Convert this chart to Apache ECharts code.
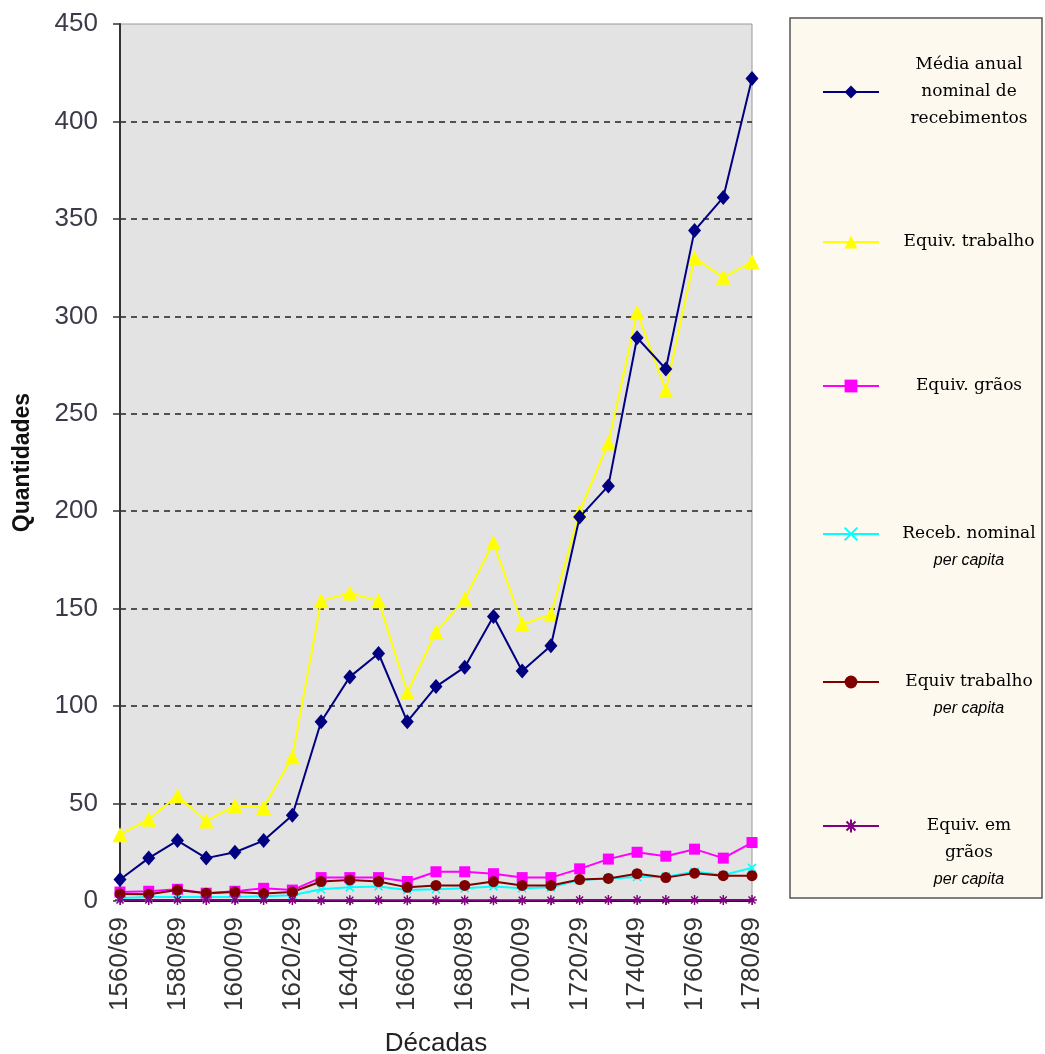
<!DOCTYPE html>
<html>
<head>
<meta charset="utf-8">
<title>Recebimentos por década</title>
<script src="https://cdn.jsdelivr.net/npm/echarts@6/dist/echarts.min.js"></script>
<style>
  html, body { margin: 0; padding: 0; background: #ffffff; }
  #chart { width: 1045px; height: 1054px; }
</style>
</head>
<body>
<div id="chart"></div>
<script>
// Decades on the horizontal axis
const decadas = ['1560/69','1570/79','1580/89','1590/99','1600/09','1610/19','1620/29','1630/39',
  '1640/49','1650/59','1660/69','1670/79','1680/89','1690/99','1700/09','1710/19','1720/29',
  '1730/39','1740/49','1750/59','1760/69','1770/79','1780/89'];

// Média anual nominal de recebimentos
const mediaNominal = [11, 22, 31, 22, 25, 31, 44, 92, 115, 127, 92, 110, 120, 146, 118, 131,
  197, 213, 289, 273, 344, 361, 422];
// Equivalente em trabalho
const equivTrabalho = [34, 42, 54, 41, 49, 48, 74, 154, 158, 154, 107, 138, 155, 184, 142, 147,
  200, 235, 302, 262, 330, 320, 328];
// Equivalente em grãos
const equivGraos = [4.6, 5, 6, 4, 5, 6.5, 5.6, 12, 12, 12, 10, 15, 15, 14, 12, 12,
  16.5, 21.5, 25, 23, 26.6, 22, 30];
// Recebimento nominal per capita
const recebPerCapita = [1.5, 2, 2, 2, 2, 2.5, 3, 6, 7, 7.5, 5.6, 6, 6.5, 7.5, 6.5, 7,
  10.8, 11.6, 12.3, 12.5, 15, 13.3, 17];
// Equivalente em trabalho per capita
const trabalhoPerCapita = [3.6, 3.5, 5.6, 4, 4.6, 3.8, 4.6, 10, 10.8, 10, 7, 8, 8, 10, 8, 8,
  11, 11.6, 14, 12, 14.3, 13, 13];
// Equivalente em grãos per capita
const graosPerCapita = [0.5, 0.5, 0.5, 0.5, 0.5, 0.5, 0.5, 0.4, 0.4, 0.4, 0.4, 0.4, 0.4, 0.4,
  0.4, 0.4, 0.5, 0.5, 0.5, 0.5, 0.5, 0.5, 0.5];

// Value axis ticks
const yMin = 0, yMax = 450, yStep = 50;

const nomes = [
  'Média anual nominal de recebimentos',
  'Equiv. trabalho',
  'Equiv. grãos',
  'Receb. nominal per capita',
  'Equiv trabalho per capita',
  'Equiv. em grãos per capita'
];

// Legend text lines ('{n| }' = spacer line, {i|...} = italic)
const legendLines = [
  ['{n|Média anual}', '{n|nominal de}', '{n|recebimentos}'],
  ['{n|Equiv. trabalho}'],
  ['{n|Equiv. grãos}'],
  ['{n| }', '{n|Receb. nominal}', '{i|per capita}'],
  ['{n| }', '{n|Equiv trabalho}', '{i|per capita}'],
  ['{n| }', '{n| }', '{n|Equiv. em}', '{n|grãos}', '{i|per capita}']
];
const legendIconY = [92, 242, 386, 534, 682, 826];
const LH = 27;

const xSymbol = 'path://M0,0L10,10M10,0L0,10';
const starSymbol = 'path://M5,0L5,10M0,5L10,5M1.5,1.5L8.5,8.5M8.5,1.5L1.5,8.5';

const chart = echarts.init(document.getElementById('chart'), null, { renderer: 'canvas' });

const legends = nomes.map((nome, i) => ({
  data: [nome],
  orient: 'vertical',
  left: 817,
  top: legendIconY[i] - legendLines[i].length * LH / 2,
  itemWidth: 56,
  itemHeight: 16,
  formatter: () => legendLines[i].join('\n'),
  textStyle: {
    width: 170,
    rich: {
      n: { fontFamily: 'DejaVu Serif', fontSize: 17, color: '#000', lineHeight: LH, align: 'center' },
      i: { fontFamily: 'Liberation Sans Narrow, Liberation Sans', fontStyle: 'italic', fontSize: 16, color: '#000', lineHeight: LH, align: 'center' }
    }
  }
}));

const lineSeries = (name, data, color, symbol, size, extra) => Object.assign({
  name: name,
  type: 'line',
  data: data,
  symbol: symbol,
  symbolSize: size,
  showAllSymbol: true,
  lineStyle: { color: color, width: 2 },
  itemStyle: { color: color },
  emphasis: { disabled: true },
  animation: false
}, extra || {});

chart.setOption({
  backgroundColor: '#ffffff',
  animation: false,
  graphic: [{
    type: 'rect',
    z: -1,
    shape: { x: 790, y: 18, width: 252, height: 880 },
    style: { fill: '#FDF9EE', stroke: '#555', lineWidth: 1.5 }
  }],
  legend: legends,
  grid: {
    left: 120, right: 293, top: 24, bottom: 153,
    outerBoundsMode: 'none',
    containLabel: false,
    show: true,
    backgroundColor: '#E3E3E3',
    borderColor: '#999',
    borderWidth: 1
  },
  xAxis: {
    type: 'category',
    data: decadas,
    boundaryGap: false,
    name: 'Décadas',
    nameLocation: 'middle',
    nameGap: 130,
    nameTextStyle: { fontFamily: 'Liberation Sans', fontSize: 26, color: '#222' },
    axisLine: { lineStyle: { color: '#111', width: 2 } },
    axisTick: { show: true, interval: 0, length: 4, lineStyle: { color: '#444' } },
    axisLabel: {
      interval: 1,
      rotate: 90,
      margin: 16,
      fontFamily: 'Liberation Sans',
      fontSize: 26,
      color: '#333'
    },
    splitLine: { show: false }
  },
  yAxis: {
    type: 'value',
    min: yMin, max: yMax, interval: yStep,
    name: 'Quantidades',
    nameLocation: 'middle',
    nameGap: 86,
    nameTextStyle: { fontFamily: 'Liberation Sans', fontWeight: 'bold', fontSize: 23, color: '#111' },
    axisLine: { show: true, lineStyle: { color: '#333', width: 2 } },
    axisTick: { show: true, length: 7, lineStyle: { color: '#333', width: 1.5 } },
    axisLabel: { fontFamily: 'Liberation Sans', fontSize: 26, color: '#3c3a48', margin: 22 },
    splitLine: {
      show: true,
      showMinLine: false,
      showMaxLine: false,
      lineStyle: { color: '#222', type: [6, 5], width: 1.5 }
    }
  },
  series: [
    lineSeries(nomes[0], mediaNominal, '#000080', 'diamond', [13, 15], { z: 4 }),
    lineSeries(nomes[1], equivTrabalho, '#FFFF00', 'triangle', 15, { z: 3 }),
    lineSeries(nomes[2], equivGraos, '#FF00FF', 'rect', 11),
    lineSeries(nomes[3], recebPerCapita, '#00FFFF', xSymbol, 8,
      { itemStyle: { color: '#00FFFF', borderColor: '#00FFFF', borderWidth: 1.5 } }),
    lineSeries(nomes[4], trabalhoPerCapita, '#800000', 'circle', 11),
    lineSeries(nomes[5], graosPerCapita, '#800080', starSymbol, 10,
      { itemStyle: { color: '#800080', borderColor: '#800080', borderWidth: 1.5 } })
  ]
});
</script>
</body>
</html>
